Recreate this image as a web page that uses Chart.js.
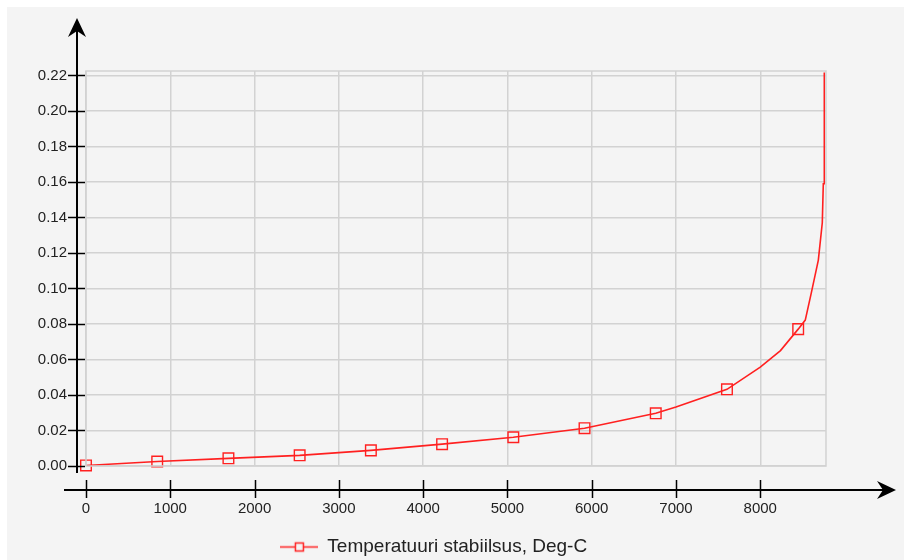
<!DOCTYPE html>
<html>
<head>
<meta charset="utf-8">
<script src="https://cdn.jsdelivr.net/npm/chart.js@4/dist/chart.umd.min.js"></script>
<style>
  html, body { margin: 0; padding: 0; background: #ffffff; }
  #bg { position: absolute; left: 7px; top: 7px; width: 897px; height: 553px; background: #f4f4f4; }
  #wrap { position: absolute; left: 0; top: 0; width: 904px; height: 560px; }
</style>
</head>
<body>
<div id="bg"></div>
<div id="wrap"><canvas id="chart" width="904" height="560"></canvas></div>
<script>
// curve
const curveX = [0, 845, 1690, 2535, 3380, 4225, 5070, 5915, 6760, 7000, 7605, 8000, 8240, 8450, 8534, 8605, 8689, 8736, 8748, 8760, 8760];
const curveY = [0.0003, 0.0025, 0.0043, 0.006, 0.0088, 0.0123, 0.0162, 0.0213, 0.0297, 0.0332, 0.0432, 0.0557, 0.065, 0.0771, 0.0822, 0.0974, 0.116, 0.137, 0.159, 0.159, 0.2217];

// square markers
const markerX = [0, 845, 1690, 2535, 3380, 4225, 5070, 5915, 6760, 7605, 8450];
const markerY = [0.0003, 0.0025, 0.0043, 0.006, 0.0088, 0.0123, 0.0162, 0.0213, 0.0297, 0.0432, 0.0771];

const xTicks = [0, 1000, 2000, 3000, 4000, 5000, 6000, 7000, 8000];
const yTicks = [0, 0.02, 0.04, 0.06, 0.08, 0.10, 0.12, 0.14, 0.16, 0.18, 0.20, 0.22];

const seriesName = 'Temperatuuri stabiilsus, Deg-C';
const red = 'rgb(255,32,32)';
const gridColor = '#d2d2d2';
const FONT = '"Liberation Sans", Arial, sans-serif';

// legend symbol: line with a square on it
const legendIcon = document.createElement('canvas');
legendIcon.width = 38;
legendIcon.height = 14;
(function () {
  const c = legendIcon.getContext('2d');
  c.strokeStyle = red;
  c.lineWidth = 1.5;
  c.beginPath();
  c.moveTo(0, 7.5);
  c.lineTo(38, 7.5);
  c.stroke();
  c.fillStyle = '#f4f4f4';
  c.fillRect(15, 3.5, 8, 8);
  c.strokeRect(15.5, 3.5, 8, 8);
})();

const axesPlugin = {
  id: 'axesPlugin',
  afterLayout(chart) {
    // legend sits a little lower in the original
    if (chart.legend) {
      chart.legend.top += 6;
      chart.legend.bottom += 6;
    }
  },
  afterDraw(chart) {
    const {ctx, chartArea: a, scales} = chart;
    ctx.save();
    // plot frame
    ctx.strokeStyle = gridColor;
    ctx.lineWidth = 1.5;
    ctx.strokeRect(a.left, a.top, a.right - a.left, a.bottom - a.top);

    ctx.strokeStyle = '#000';
    ctx.fillStyle = '#000';
    ctx.lineWidth = 2;

    // y axis
    const ax = a.left - 9;
    ctx.beginPath();
    ctx.moveTo(ax, 28);
    ctx.lineTo(ax, a.bottom + 7);
    ctx.stroke();
    ctx.beginPath();
    ctx.moveTo(ax, 18);
    ctx.lineTo(ax - 9, 37);
    ctx.lineTo(ax, 31);
    ctx.lineTo(ax + 9, 37);
    ctx.closePath();
    ctx.fill();
    ctx.lineWidth = 1.5;
    yTicks.forEach(v => {
      const py = Math.round(scales.y.getPixelForValue(v)) + 0.5;
      ctx.beginPath();
      ctx.moveTo(a.left - 18, py);
      ctx.lineTo(a.left - 1, py);
      ctx.stroke();
    });

    // x axis
    const ay = a.bottom + 24;
    ctx.lineWidth = 2;
    ctx.beginPath();
    ctx.moveTo(64, ay);
    ctx.lineTo(886, ay);
    ctx.stroke();
    ctx.beginPath();
    ctx.moveTo(896, ay);
    ctx.lineTo(877, ay - 9);
    ctx.lineTo(883, ay);
    ctx.lineTo(877, ay + 9);
    ctx.closePath();
    ctx.fill();
    ctx.lineWidth = 1.5;
    xTicks.forEach(v => {
      const px = Math.round(scales.x.getPixelForValue(v)) + 0.5;
      ctx.beginPath();
      ctx.moveTo(px, ay - 10);
      ctx.lineTo(px, ay + 8);
      ctx.stroke();
    });
    ctx.restore();
  }
};

const config = {
  type: 'scatter',
  data: {
    datasets: [{
      label: seriesName,
      data: curveX.map((x, i) => ({x: x, y: curveY[i]})),
      showLine: true,
      borderColor: red,
      borderWidth: 1.6,
      pointRadius: 0,
      tension: 0
    }, {
      label: 'markers',
      data: markerX.map((x, i) => ({x: x, y: markerY[i]})),
      showLine: false,
      clip: false,
      pointStyle: 'rect',
      pointRadius: 7.5,
      pointBorderWidth: 1.4,
      pointBorderColor: red,
      pointBackgroundColor: 'rgba(0,0,0,0)'
    }]
  },
  options: {
    animation: false,
    responsive: false,
    layout: {padding: {top: 71, left: 0, right: 37, bottom: 0}},
    scales: {
      x: {
        type: 'linear',
        min: 0,
        max: 8780,
        afterBuildTicks: (s) => { s.ticks = xTicks.map(v => ({value: v})); },
        afterFit: (s) => { s.height = s.chart.height - s.chart.legend.height - 466; },
        grid: {color: gridColor, lineWidth: 1.5, drawTicks: false},
        border: {display: false},
        ticks: {
          padding: 34,
          color: '#222',
          font: {family: FONT, size: 15},
          maxRotation: 0,
          callback: (v) => String(v)
        }
      },
      y: {
        min: 0,
        max: 0.2225,
        afterBuildTicks: (s) => { s.ticks = yTicks.map(v => ({value: v})); },
        afterFit: (s) => { s.width = 86; },
        grid: {color: gridColor, lineWidth: 1.5, drawTicks: false},
        border: {display: false},
        ticks: {
          padding: 19,
          color: '#222',
          font: {family: FONT, size: 15},
          callback: (v) => Number(v).toFixed(2)
        }
      },
      yRight: {
        position: 'right',
        display: true,
        grid: {display: false},
        border: {display: false},
        ticks: {display: false},
        afterFit: (s) => { s.width = 41; }
      }
    },
    plugins: {
      legend: {
        position: 'bottom',
        labels: {
          filter: (item) => item.datasetIndex === 0,
          usePointStyle: true,
          pointStyle: legendIcon,
          pointStyleWidth: 38,
          color: '#222',
          font: {family: FONT, size: 19},
          padding: 2
        }
      },
      tooltip: {enabled: false}
    }
  },
  plugins: [axesPlugin]
};

new Chart(document.getElementById('chart'), config);
</script>
</body>
</html>
